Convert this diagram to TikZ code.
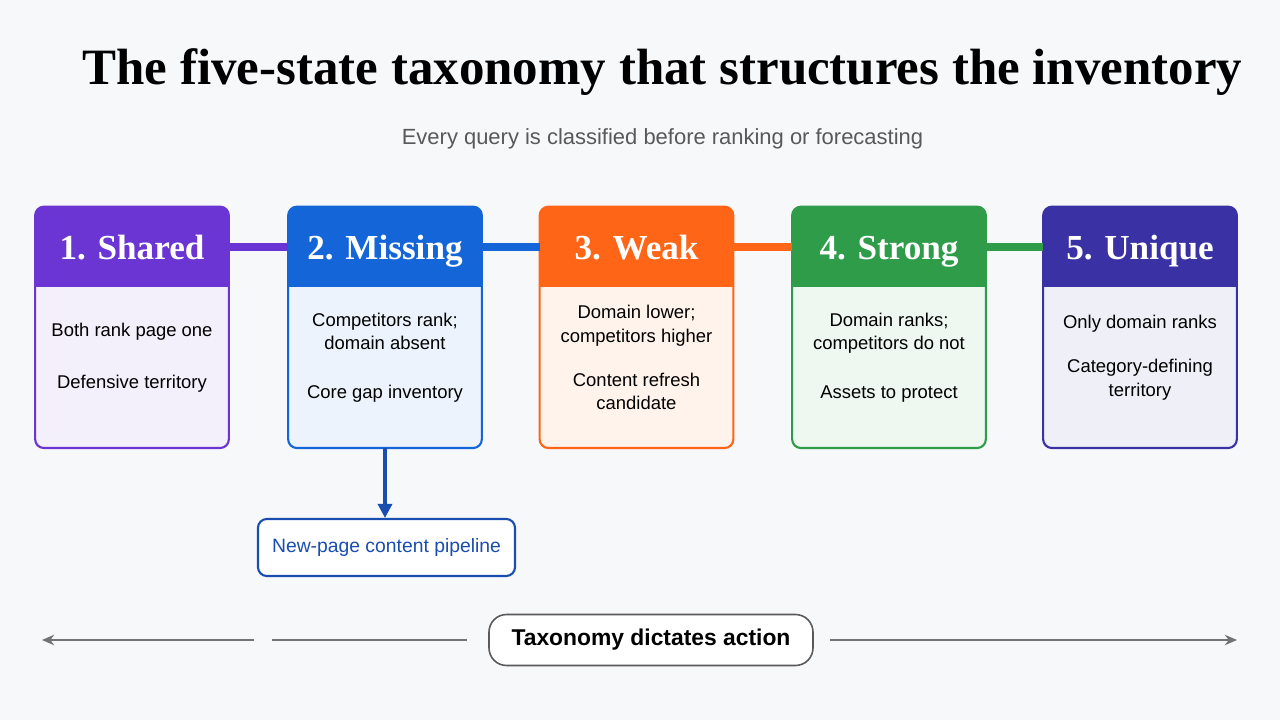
\documentclass[tikz,border=0pt]{standalone}
\usepackage{fontspec}
\setmainfont{Liberation Serif}
\setsansfont{Liberation Sans}
\usetikzlibrary{positioning, arrows.meta, calc}
\definecolor{bgpage}{HTML}{F7F8FA}
\definecolor{cshared}{HTML}{6A35D2}
\definecolor{cmissing}{HTML}{1466D8}
\definecolor{cweak}{HTML}{FF6516}
\definecolor{cstrong}{HTML}{2E9C49}
\definecolor{cunique}{HTML}{3A32A4}
\definecolor{pipeblue}{HTML}{1A4DB0}
\newcommand{\statebox}[5]
{
	\node[statehead] (#1h) at (#2, 9.46) {};
	\node[statebody, below = 0pt of #1h] (#1b) {};
	\begin{scope}
		\clip[rounded corners = 5pt] (#1h.north west) rectangle (#1b.south east);
		\fill[#3!8] (#1b.north west) rectangle (#1b.south east);
		\fill[#3] (#1h.north west) rectangle (#1h.south east);
	\end{scope}
	\draw[#3, line width = 1.2pt, rounded corners = 5pt] (#1h.north west) rectangle (#1b.south east);
	\node[headtext] at ($(#1h.center) + (0,-0.08)$) {#4};
	\node[bodytext] at ($(#1b.center) + (0,0.2)$) {#5};
}
\begin{document}
\begin{tikzpicture}[
	statehead/.style = {minimum width = 3.86cm, minimum height = 1.6cm, inner sep = 0pt},
	statebody/.style = {minimum width = 3.86cm, minimum height = 3.2cm, inner sep = 0pt},
	headtext/.style = {text = white, font = \fontsize{20}{24}\selectfont\bfseries, text height = 14pt, text depth = 4pt, inner sep = 0pt},
	bodytext/.style = {font = \sffamily\fontsize{10.5}{13.5}\selectfont, align = center, inner sep = 0pt},
	link/.style = {line width = 5pt}]
	\fill[bgpage] (0,0) rectangle (25.6,14.4);
	\useasboundingbox (0,0) rectangle (25.6,14.4);

	\node[font = \fontsize{29}{34}\selectfont\bfseries] (title) at (13.25,12.95) {The five-state taxonomy that structures the inventory};
	\node[font = \sffamily\fontsize{12.5}{15}\selectfont, text = black!65, below = 0.4cm of title] (sub) {Every query is classified before ranking or forecasting};

	% state boxes
	\statebox{shared}{2.64}{cshared}{1. Shared}{Both rank page one\\[0.55cm]Defensive territory}
	\statebox{missing}{7.7}{cmissing}{2. Missing}{Competitors rank;\\domain absent\\[0.5cm]Core gap inventory}
	\statebox{weak}{12.73}{cweak}{3. Weak}{Domain lower;\\competitors higher\\[0.4cm]Content refresh\\candidate}
	\statebox{strong}{17.78}{cstrong}{4. Strong}{Domain ranks;\\competitors do not\\[0.5cm]Assets to protect}
	\statebox{unique}{22.8}{cunique}{5. Unique}{Only domain ranks\\[0.4cm]Category-defining\\territory}

	\draw[link, cshared] (sharedh.east) -- (missingh.west);
	\draw[link, cmissing] (missingh.east) -- (weakh.west);
	\draw[link, cweak] (weakh.east) -- (strongh.west);
	\draw[link, cstrong] (strongh.east) -- (uniqueh.west);

	% pipeline
	\node[draw = pipeblue, fill = white, line width = 1.2pt, rounded corners = 5pt, minimum width = 5.14cm, minimum height = 1.14cm, text = pipeblue, font = \sffamily\fontsize{11}{14}\selectfont] (pipe) at (7.73,3.45) {New-page content pipeline};
	\draw[-{Triangle[length = 8pt, width = 8pt]}, pipeblue, line width = 1.8pt] (missingb.south) -- (missingb.south |- pipe.north);

	% bottom scale
	\node[draw = black!65, fill = white, line width = 0.9pt, rounded corners = 10pt, minimum width = 6.48cm, minimum height = 1.02cm, font = \sffamily\bfseries\fontsize{13}{16}\selectfont] (action) at (13.02,1.6) {Taxonomy dictates action};
	\coordinate (lend) at (0.84,1.6);
	\coordinate (lgap1) at (5.08,1.6);
	\coordinate (lgap2) at (5.44,1.6);
	\coordinate (rend) at (24.74,1.6);
	\draw[black!55, line width = 0.7pt, -{Stealth[length = 7pt, width = 6pt]}] (lgap1) -- (lend);
	\draw[black!55, line width = 0.7pt] (lgap2) -- ($(action.west) + (-0.42,0)$);
	\draw[black!55, line width = 0.7pt, -{Stealth[length = 7pt, width = 6pt]}] ($(action.east) + (0.32,0)$) -- (rend);
\end{tikzpicture}
\end{document}
